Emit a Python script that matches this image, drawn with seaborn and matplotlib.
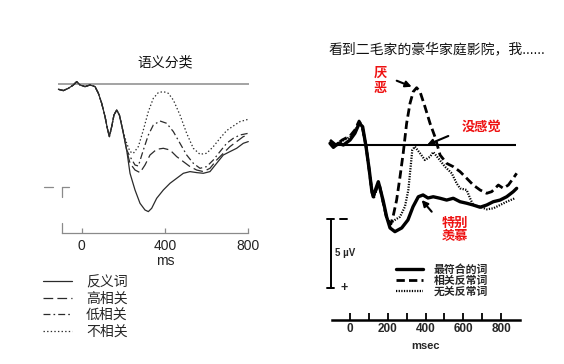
import matplotlib
matplotlib.use("Agg")
import matplotlib.pyplot as plt
import seaborn as sns
import pandas as pd

# ---------------- left panel: 语义分类 (arbitrary units, up = positive) ----------------
left_conditions = ["反义词", "高相关", "低相关", "不相关"]

# all four curves run together until ~200 ms
left_early_ms = [-112, -88, -64, -40, -24, -8, 16, 40, 64, 80, 96, 112, 123, 133, 144, 155, 168, 181, 197]
left_early_amp = [-0.5, -0.63, -0.4, -0.07, 0.27, -0.07, -0.23, -0.07, -0.23, -0.9, -1.9, -3.23,
                  -4.4, -5.23, -4.23, -3.07, -2.57, -3.07, -4.57]

antonym_ms = [216, 232, 256, 280, 304, 320, 336, 360, 392, 424, 456, 488, 520, 552, 584, 616,
              648, 680, 712, 744, 776, 800]
antonym_amp = [-6.57, -8.9, -10.57, -11.9, -12.57, -12.73, -12.4, -11.4, -10.57, -9.9, -9.4, -8.9,
               -8.73, -8.83, -8.9, -8.73, -7.9, -7.07, -6.73, -6.4, -5.9, -5.73]

high_ms = [216, 232, 256, 280, 304, 328, 360, 392, 424, 456, 488, 520, 552, 584, 616, 648, 680,
           712, 744, 776, 800]
high_amp = [-6.6, -7.9, -8.57, -8.83, -8.07, -7.07, -6.5, -6.4, -6.57, -7.23, -7.73, -8.23, -8.57,
            -8.73, -8.4, -7.57, -6.9, -6.23, -5.73, -5.23, -5.07]

low_ms = [216, 232, 256, 272, 296, 320, 344, 376, 408, 440, 472, 504, 536, 568, 600, 632, 664,
          696, 728, 760, 800]
low_amp = [-6.57, -7.23, -8.07, -8.17, -6.57, -5.07, -4.07, -3.67, -3.9, -4.73, -5.9, -7.07, -7.9,
           -8.4, -8.23, -7.57, -6.73, -5.9, -5.4, -5.07, -4.9]

unrel_ms = [216, 232, 248, 272, 296, 320, 344, 368, 392, 416, 440, 472, 504, 536, 568, 600, 632,
            664, 696, 728, 760, 800]
unrel_amp = [-5.9, -6.73, -6.9, -6.23, -4.57, -2.73, -1.4, -0.83, -0.73, -0.9, -1.57, -3.07, -4.9,
             -6.4, -7.0, -6.9, -6.23, -5.4, -4.63, -4.17, -3.73, -3.5]

# ---------------- right panel: µV, negative plotted up ----------------
right_conditions = ["最符合的词", "相关反常词", "无关反常词"]

best_ms = [-106, -88, -62, -35, 0, 26, 49, 67, 85, 102, 115, 123, 138, 150, 175, 194, 212, 238,
           274, 307, 334, 362, 387, 413, 441, 477, 512, 547, 583, 618, 653, 689, 724, 759, 795,
           830, 865, 883]
best_uv = [-0.12, 0.17, -0.12, 0, -0.36, -0.85, -1.57, -1.33, 0.12, 1.81, 3.26, 3.75, 3.12, 2.66,
           3.99, 5.20, 6.01, 6.28, 6.01, 5.43, 4.47, 3.75, 3.62, 3.84, 3.75, 3.86, 3.99, 3.86,
           4.11, 4.22, 4.35, 4.51, 4.35, 4.11, 3.99, 3.75, 3.38, 3.14]

related_ms = [-106, -74, -42, 0, 26, 48, 64, 85, 103, 117, 127, 143, 154, 175, 196, 217, 230, 247,
              265, 282, 300, 318, 335, 353, 371, 397, 424, 450, 477, 512, 547, 583, 618, 653, 689,
              724, 751, 786, 812, 839, 865, 883]
related_uv = [-0.36, 0, -0.36, -0.65, -1.09, -1.74, -1.38, 0.07, 1.96, 3.48, 3.77, 3.04, 2.75,
              4.13, 5.43, 5.72, 5.07, 3.99, 2.30, 0.58, -1.57, -3.02, -3.86, -4.15, -3.86, -2.78,
              -1.57, -0.60, 0.72, 1.33, 1.57, 1.93, 2.41, 2.90, 3.26, 3.50, 3.38, 2.90, 3.14,
              2.90, 2.41, 2.05]

unrelated_ms = [-106, -74, -42, 0, 26, 48, 64, 85, 103, 117, 127, 143, 154, 175, 196, 217, 238,
                265, 291, 309, 318, 330, 344, 371, 397, 424, 441, 468, 503, 539, 565, 583, 618,
                636, 653, 689, 724, 759, 795, 830, 874]
unrelated_uv = [-0.22, 0.07, -0.29, -0.58, -1.01, -1.59, -1.30, 0.14, 1.96, 3.48, 3.77, 3.12,
                2.83, 4.13, 5.36, 5.65, 5.43, 5.20, 4.47, 3.26, 2.03, 0.36, 0.12, 0.60, 1.09,
                0.85, 0.51, 0.96, 1.57, 2.05, 2.78, 3.14, 3.26, 3.86, 4.35, 4.47, 4.66, 4.59,
                4.35, 4.11, 3.86]

left_df = pd.concat([
    pd.DataFrame({"ms": left_early_ms + ms, "amp": left_early_amp + amp, "cond": c})
    for c, ms, amp in zip(left_conditions,
                          [antonym_ms, high_ms, low_ms, unrel_ms],
                          [antonym_amp, high_amp, low_amp, unrel_amp])
])
right_df = pd.concat([
    pd.DataFrame({"ms": ms, "uv": uv, "cond": c})
    for c, ms, uv in zip(right_conditions,
                         [best_ms, related_ms, unrelated_ms],
                         [best_uv, related_uv, unrelated_uv])
])

sns.set_style("white")
plt.rcParams["font.family"] = ["Liberation Sans", "Noto Sans CJK SC", "DejaVu Sans"]
plt.rcParams["lines.scale_dashes"] = False

W, H = 564, 364
fig = plt.figure(figsize=(W / 100, H / 100), dpi=100)


def box(l, t, r, b):
    return [l / W, 1 - b / H, (r - l) / W, (b - t) / H]


# pixel -> data helpers for the two panels
def lx(px):
    return (px - 81.7) / 0.20825


def ly(py):
    return (84.3 - py) / 10.0


def rx(px):
    return (px - 350) / 0.18875


def ry(py):
    return (py - 145) / 13.8


# ---------------- left panel ----------------
ax1 = fig.add_axes(box(40, 70, 260, 240))
ax1.set_xlim(lx(40), lx(260))
ax1.set_ylim(ly(240), ly(70))

left_styles = {"反义词": "-", "高相关": (0, (7, 3)), "低相关": (0, (5, 2.2, 1.2, 2.2)),
               "不相关": (0, (1, 1.6))}
gray = "#8a8a8a"
ax1.hlines(0, -112, 805, color=gray, lw=1.1)
for c in left_conditions:
    sub = left_df[left_df["cond"] == c]
    sns.lineplot(data=sub, x="ms", y="amp", ax=ax1, color="#2b2b2b", lw=0.9,
                 linestyle=left_styles[c], label=c, legend=False, sort=False, estimator=None)
ax1.set(xlabel="", ylabel="")
for s in ["left", "top", "right"]:
    ax1.spines[s].set_visible(False)
ax1.spines["bottom"].set_position(("data", ly(233)))
ax1.spines["bottom"].set_bounds(lx(61.7), 800)
ax1.spines["bottom"].set_color(gray)
ax1.spines["bottom"].set_linewidth(0.9)
ax1.set_xticks([0, 400, 800])
ax1.set_yticks([])
ax1.tick_params(axis="x", bottom=True, direction="in", length=3.6, width=0.9, color=gray,
                labelsize=10, pad=4, labelcolor="#222222")
ax1.plot([lx(61.7)] * 2, [ly(223), ly(233)], color=gray, lw=0.9, clip_on=False)
ax1.plot([lx(61.7)] * 2, [ly(186.5), ly(196.5)], color=gray, lw=0.9, clip_on=False)
ax1.plot([lx(61.7), lx(69.3)], [ly(186.5)] * 2, color=gray, lw=0.9, clip_on=False)
ax1.plot([lx(44), lx(52.5)], [ly(186.5)] * 2, color=gray, lw=0.9, clip_on=False)
ax1.text(400, ly(261), "ms", ha="center", va="center", fontsize=10, color="#222222")
ax1.text(400, ly(62.7), "语义分类", ha="center", va="center", fontsize=10, color="#111111")

h1, l1 = ax1.get_legend_handles_labels()
fig.legend(h1, l1, loc="upper left", bbox_to_anchor=(43 / W, 1 - 275 / H), frameon=False,
           fontsize=10, handlelength=2.1, handletextpad=1.0, labelspacing=0.18,
           borderpad=0, borderaxespad=0)

# ---------------- right panel ----------------
ax2 = fig.add_axes(box(320, 60, 530, 355))
ax2.set_xlim(rx(320), rx(530))
ax2.set_ylim(ry(355), ry(60))

right_styles = {"最符合的词": ("-", 2.4), "相关反常词": ((0, (6, 3)), 2.0),
                "无关反常词": ((0, (0.9, 1.0)), 1.6)}
ax2.hlines(0, -106, 880, color="black", lw=1.5)
for c in right_conditions:
    sub = right_df[right_df["cond"] == c]
    ls, lw = right_styles[c]
    sns.lineplot(data=sub, x="ms", y="uv", ax=ax2, color="black", lw=lw, linestyle=ls,
                 label=c, legend=False, sort=False, estimator=None)
ax2.set(xlabel="", ylabel="")
for s in ["left", "top", "right"]:
    ax2.spines[s].set_visible(False)
ax2.spines["bottom"].set_position(("data", ry(320)))
ax2.spines["bottom"].set_bounds(rx(331.7), rx(520))
ax2.spines["bottom"].set_color("black")
ax2.spines["bottom"].set_linewidth(1.8)
ax2.set_xticks([0, 200, 400, 600, 800])
ax2.set_xticks([100, 300, 500, 700], minor=True)
ax2.set_yticks([])
ax2.tick_params(axis="x", which="both", bottom=True, direction="in", length=4.8, width=1.3,
                color="black", labelsize=8.5, pad=2.5)
for lbl in ax2.get_xticklabels():
    lbl.set_fontweight("bold")
ax2.text(400, ry(345.7), "msec", ha="center", va="center", fontsize=8, fontweight="bold")
ax2.text(rx(437), ry(49), "看到二毛家的豪华家庭影院，我......", ha="center", va="center",
         fontsize=10, color="#111111")

# 5 µV scale bar
ax2.plot([rx(330.7)] * 2, [ry(219), ry(288)], color="black", lw=1.4, clip_on=False)
for yy in (219, 288):
    ax2.plot([rx(327.3), rx(334.3)], [ry(yy)] * 2, color="black", lw=1.4, clip_on=False)
ax2.plot([rx(340), rx(347.3)], [ry(219)] * 2, color="black", lw=1.4, clip_on=False)
ax2.text(rx(344.3), ry(288.3), "+", ha="center", va="center", fontsize=9, fontweight="bold")
ax2.text(rx(335), ry(253.3), "5 µV", ha="left", va="center", fontsize=7, fontweight="bold")

# red annotations with arrows
red = "#ee1111"
ax2.text(rx(380), ry(81.5), "厌\n恶", ha="center", va="center", fontsize=9.5,
         fontweight="bold", color=red, linespacing=1.3)
ax2.text(rx(481.7), ry(127.3), "没感觉", ha="center", va="center", fontsize=9.5,
         fontweight="bold", color=red)
ax2.text(rx(455), ry(230.2), "特别\n羡慕", ha="center", va="center", fontsize=9.5,
         fontweight="bold", color=red, linespacing=1.15)
arrow = dict(arrowstyle="-|>", color="black", lw=1.5, mutation_scale=9, shrinkA=0, shrinkB=0)
ax2.annotate("", xy=(rx(411.7), ry(86.7)), xytext=(rx(396.7), ry(80.7)), arrowprops=arrow)
ax2.annotate("", xy=(rx(427), ry(145)), xytext=(rx(448.3), ry(136)), arrowprops=arrow)
ax2.annotate("", xy=(rx(421.7), ry(200)), xytext=(rx(431.7), ry(211.7)), arrowprops=arrow)

h2, l2 = ax2.get_legend_handles_labels()
fig.legend(h2, l2, loc="upper left", bbox_to_anchor=(396 / W, 1 - 264 / H), frameon=False,
           prop={"size": 7.8, "weight": "bold"}, handlelength=2.5, handletextpad=1.0,
           labelspacing=0.05, borderpad=0, borderaxespad=0)

fig.savefig("out.png", dpi=100)
